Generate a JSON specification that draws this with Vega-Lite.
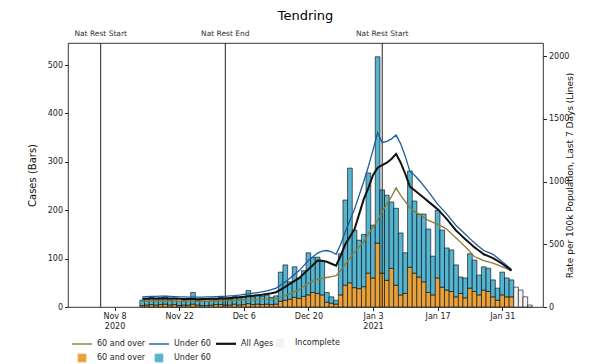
{
 "$schema": "https://vega.github.io/schema/vega-lite/v6.json",
 "width": 475,
 "height": 264,
 "autosize": {"type": "none"},
 "padding": {"left": 68, "top": 43, "right": 57, "bottom": 57},
 "title": {"text": "Tendring", "fontSize": 13, "font": "DejaVu Sans", "fontWeight": "normal", "color": "#000", "offset": 7, "frame": "group", "anchor": "middle"},
 "config": {
  "font": "DejaVu Sans",
  "view": {"stroke": "#000", "strokeWidth": 0.8},
  "axis": {"labelFont": "DejaVu Sans", "labelFontSize": 8, "labelColor": "#222", "tickColor": "#222", "tickSize": 3.5, "domain": false, "grid": false, "titleFont": "DejaVu Sans", "titleFontWeight": "normal", "titleColor": "#111", "labelPadding": 2}
 },
 "datasets": {
  "events": [
   {"date": "2020-11-05", "label": "Nat Rest Start"},
   {"date": "2020-12-02", "label": "Nat Rest End"},
   {"date": "2021-01-05", "label": "Nat Rest Start"}
  ],
  "bars": [
   {"date": "2020-11-14", "b60": 3, "bu60": 11},
   {"date": "2020-11-15", "b60": 4, "bu60": 14},
   {"date": "2020-11-16", "b60": 5, "bu60": 15},
   {"date": "2020-11-17", "b60": 4, "bu60": 13},
   {"date": "2020-11-18", "b60": 5, "bu60": 14},
   {"date": "2020-11-19", "b60": 6, "bu60": 16},
   {"date": "2020-11-20", "b60": 4, "bu60": 11},
   {"date": "2020-11-21", "b60": 5, "bu60": 13},
   {"date": "2020-11-22", "b60": 3, "bu60": 9},
   {"date": "2020-11-23", "b60": 4, "bu60": 10},
   {"date": "2020-11-24", "b60": 4, "bu60": 12},
   {"date": "2020-11-25", "b60": 6, "bu60": 24},
   {"date": "2020-11-26", "b60": 4, "bu60": 10},
   {"date": "2020-11-27", "b60": 3, "bu60": 12},
   {"date": "2020-11-28", "b60": 3, "bu60": 9},
   {"date": "2020-11-29", "b60": 4, "bu60": 13},
   {"date": "2020-11-30", "b60": 5, "bu60": 11},
   {"date": "2020-12-01", "b60": 5, "bu60": 15},
   {"date": "2020-12-02", "b60": 4, "bu60": 14},
   {"date": "2020-12-03", "b60": 4, "bu60": 12},
   {"date": "2020-12-04", "b60": 6, "bu60": 16},
   {"date": "2020-12-05", "b60": 4, "bu60": 13},
   {"date": "2020-12-06", "b60": 5, "bu60": 15},
   {"date": "2020-12-07", "b60": 7, "bu60": 27},
   {"date": "2020-12-08", "b60": 5, "bu60": 16},
   {"date": "2020-12-09", "b60": 6, "bu60": 18},
   {"date": "2020-12-10", "b60": 5, "bu60": 17},
   {"date": "2020-12-11", "b60": 6, "bu60": 19},
   {"date": "2020-12-12", "b60": 5, "bu60": 15},
   {"date": "2020-12-13", "b60": 6, "bu60": 17},
   {"date": "2020-12-14", "b60": 12, "bu60": 60},
   {"date": "2020-12-15", "b60": 14, "bu60": 73},
   {"date": "2020-12-16", "b60": 16, "bu60": 36},
   {"date": "2020-12-17", "b60": 20, "bu60": 63},
   {"date": "2020-12-18", "b60": 18, "bu60": 42},
   {"date": "2020-12-19", "b60": 22, "bu60": 53},
   {"date": "2020-12-20", "b60": 25, "bu60": 87},
   {"date": "2020-12-21", "b60": 30, "bu60": 72},
   {"date": "2020-12-22", "b60": 28, "bu60": 75},
   {"date": "2020-12-23", "b60": 25, "bu60": 70},
   {"date": "2020-12-24", "b60": 10, "bu60": 20},
   {"date": "2020-12-25", "b60": 8, "bu60": 13},
   {"date": "2020-12-26", "b60": 6, "bu60": 8},
   {"date": "2020-12-27", "b60": 25, "bu60": 85},
   {"date": "2020-12-28", "b60": 45, "bu60": 176},
   {"date": "2020-12-29", "b60": 50, "bu60": 237},
   {"date": "2020-12-30", "b60": 40, "bu60": 119},
   {"date": "2020-12-31", "b60": 38, "bu60": 100},
   {"date": "2021-01-01", "b60": 42, "bu60": 108},
   {"date": "2021-01-02", "b60": 70, "bu60": 207},
   {"date": "2021-01-03", "b60": 60, "bu60": 109},
   {"date": "2021-01-04", "b60": 132, "bu60": 385},
   {"date": "2021-01-05", "b60": 70, "bu60": 172},
   {"date": "2021-01-06", "b60": 55, "bu60": 176},
   {"date": "2021-01-07", "b60": 80, "bu60": 137},
   {"date": "2021-01-08", "b60": 45, "bu60": 159},
   {"date": "2021-01-09", "b60": 25, "bu60": 128},
   {"date": "2021-01-10", "b60": 28, "bu60": 84},
   {"date": "2021-01-11", "b60": 82, "bu60": 199},
   {"date": "2021-01-12", "b60": 70, "bu60": 149},
   {"date": "2021-01-13", "b60": 62, "bu60": 130},
   {"date": "2021-01-14", "b60": 52, "bu60": 140},
   {"date": "2021-01-15", "b60": 30, "bu60": 131},
   {"date": "2021-01-16", "b60": 25, "bu60": 80},
   {"date": "2021-01-17", "b60": 60, "bu60": 140},
   {"date": "2021-01-18", "b60": 41, "bu60": 118},
   {"date": "2021-01-19", "b60": 35, "bu60": 87},
   {"date": "2021-01-20", "b60": 32, "bu60": 86},
   {"date": "2021-01-21", "b60": 21, "bu60": 66},
   {"date": "2021-01-22", "b60": 28, "bu60": 34},
   {"date": "2021-01-23", "b60": 19, "bu60": 41},
   {"date": "2021-01-24", "b60": 39, "bu60": 71},
   {"date": "2021-01-25", "b60": 32, "bu60": 65},
   {"date": "2021-01-26", "b60": 25, "bu60": 41},
   {"date": "2021-01-27", "b60": 35, "bu60": 48},
   {"date": "2021-01-28", "b60": 32, "bu60": 48},
   {"date": "2021-01-29", "b60": 21, "bu60": 35},
   {"date": "2021-01-30", "b60": 14, "bu60": 25},
   {"date": "2021-01-31", "b60": 25, "bu60": 47},
   {"date": "2021-02-01", "b60": 21, "bu60": 39},
   {"date": "2021-02-02", "b60": 21, "bu60": 35},
   {"date": "2021-02-03", "inc": 41},
   {"date": "2021-02-04", "inc": 35},
   {"date": "2021-02-05", "inc": 21},
   {"date": "2021-02-06", "inc": 4}
  ],
  "lines": [
   {"date": "2020-11-14", "lu60": 80, "lall": 65, "l60": 45},
   {"date": "2020-11-15", "lu60": 82, "lall": 66, "l60": 46},
   {"date": "2020-11-16", "lu60": 84, "lall": 67, "l60": 47},
   {"date": "2020-11-17", "lu60": 85, "lall": 68, "l60": 48},
   {"date": "2020-11-18", "lu60": 86, "lall": 68, "l60": 48},
   {"date": "2020-11-19", "lu60": 86, "lall": 69, "l60": 48},
   {"date": "2020-11-20", "lu60": 85, "lall": 68, "l60": 48},
   {"date": "2020-11-21", "lu60": 83, "lall": 67, "l60": 47},
   {"date": "2020-11-22", "lu60": 81, "lall": 65, "l60": 46},
   {"date": "2020-11-23", "lu60": 80, "lall": 64, "l60": 46},
   {"date": "2020-11-24", "lu60": 78, "lall": 63, "l60": 45},
   {"date": "2020-11-25", "lu60": 79, "lall": 63, "l60": 45},
   {"date": "2020-11-26", "lu60": 78, "lall": 62, "l60": 45},
   {"date": "2020-11-27", "lu60": 79, "lall": 63, "l60": 46},
   {"date": "2020-11-28", "lu60": 80, "lall": 64, "l60": 47},
   {"date": "2020-11-29", "lu60": 81, "lall": 65, "l60": 48},
   {"date": "2020-11-30", "lu60": 83, "lall": 66, "l60": 48},
   {"date": "2020-12-01", "lu60": 84, "lall": 67, "l60": 49},
   {"date": "2020-12-02", "lu60": 85, "lall": 68, "l60": 50},
   {"date": "2020-12-03", "lu60": 88, "lall": 71, "l60": 51},
   {"date": "2020-12-04", "lu60": 91, "lall": 74, "l60": 52},
   {"date": "2020-12-05", "lu60": 95, "lall": 78, "l60": 54},
   {"date": "2020-12-06", "lu60": 100, "lall": 82, "l60": 55},
   {"date": "2020-12-07", "lu60": 105, "lall": 86, "l60": 56},
   {"date": "2020-12-08", "lu60": 110, "lall": 90, "l60": 57},
   {"date": "2020-12-09", "lu60": 115, "lall": 94, "l60": 58},
   {"date": "2020-12-10", "lu60": 120, "lall": 98, "l60": 60},
   {"date": "2020-12-11", "lu60": 128, "lall": 104, "l60": 62},
   {"date": "2020-12-12", "lu60": 138, "lall": 110, "l60": 65},
   {"date": "2020-12-13", "lu60": 150, "lall": 118, "l60": 68},
   {"date": "2020-12-14", "lu60": 175, "lall": 138, "l60": 78},
   {"date": "2020-12-15", "lu60": 200, "lall": 160, "l60": 90},
   {"date": "2020-12-16", "lu60": 230, "lall": 185, "l60": 105},
   {"date": "2020-12-17", "lu60": 260, "lall": 208, "l60": 122},
   {"date": "2020-12-18", "lu60": 290, "lall": 230, "l60": 140},
   {"date": "2020-12-19", "lu60": 330, "lall": 265, "l60": 165},
   {"date": "2020-12-20", "lu60": 370, "lall": 300, "l60": 190},
   {"date": "2020-12-21", "lu60": 400, "lall": 335, "l60": 205},
   {"date": "2020-12-22", "lu60": 430, "lall": 370, "l60": 220},
   {"date": "2020-12-23", "lu60": 445, "lall": 368, "l60": 228},
   {"date": "2020-12-24", "lu60": 450, "lall": 360, "l60": 235},
   {"date": "2020-12-25", "lu60": 440, "lall": 345, "l60": 242},
   {"date": "2020-12-26", "lu60": 420, "lall": 330, "l60": 250},
   {"date": "2020-12-27", "lu60": 500, "lall": 410, "l60": 290},
   {"date": "2020-12-28", "lu60": 600, "lall": 500, "l60": 340},
   {"date": "2020-12-29", "lu60": 690, "lall": 560, "l60": 390},
   {"date": "2020-12-30", "lu60": 780, "lall": 620, "l60": 440},
   {"date": "2020-12-31", "lu60": 890, "lall": 740, "l60": 480},
   {"date": "2021-01-01", "lu60": 1000, "lall": 860, "l60": 520},
   {"date": "2021-01-02", "lu60": 1120, "lall": 950, "l60": 580},
   {"date": "2021-01-03", "lu60": 1250, "lall": 1050, "l60": 640},
   {"date": "2021-01-04", "lu60": 1390, "lall": 1110, "l60": 690},
   {"date": "2021-01-05", "lu60": 1310, "lall": 1130, "l60": 760},
   {"date": "2021-01-06", "lu60": 1320, "lall": 1150, "l60": 820},
   {"date": "2021-01-07", "lu60": 1340, "lall": 1180, "l60": 880},
   {"date": "2021-01-08", "lu60": 1370, "lall": 1220, "l60": 950},
   {"date": "2021-01-09", "lu60": 1300, "lall": 1150, "l60": 890},
   {"date": "2021-01-10", "lu60": 1200, "lall": 1060, "l60": 840},
   {"date": "2021-01-11", "lu60": 1080, "lall": 960, "l60": 790},
   {"date": "2021-01-12", "lu60": 1050, "lall": 930, "l60": 760},
   {"date": "2021-01-13", "lu60": 1010, "lall": 900, "l60": 740},
   {"date": "2021-01-14", "lu60": 965, "lall": 870, "l60": 715},
   {"date": "2021-01-15", "lu60": 920, "lall": 840, "l60": 690},
   {"date": "2021-01-16", "lu60": 870, "lall": 810, "l60": 675},
   {"date": "2021-01-17", "lu60": 820, "lall": 780, "l60": 660},
   {"date": "2021-01-18", "lu60": 780, "lall": 740, "l60": 640},
   {"date": "2021-01-19", "lu60": 740, "lall": 700, "l60": 620},
   {"date": "2021-01-20", "lu60": 695, "lall": 655, "l60": 585},
   {"date": "2021-01-21", "lu60": 650, "lall": 610, "l60": 550},
   {"date": "2021-01-22", "lu60": 615, "lall": 575, "l60": 515},
   {"date": "2021-01-23", "lu60": 580, "lall": 540, "l60": 480},
   {"date": "2021-01-24", "lu60": 545, "lall": 508, "l60": 440},
   {"date": "2021-01-25", "lu60": 510, "lall": 475, "l60": 400},
   {"date": "2021-01-26", "lu60": 480, "lall": 448, "l60": 385},
   {"date": "2021-01-27", "lu60": 450, "lall": 420, "l60": 370},
   {"date": "2021-01-28", "lu60": 435, "lall": 405, "l60": 360},
   {"date": "2021-01-29", "lu60": 420, "lall": 390, "l60": 350},
   {"date": "2021-01-30", "lu60": 390, "lall": 368, "l60": 335},
   {"date": "2021-01-31", "lu60": 360, "lall": 345, "l60": 320},
   {"date": "2021-02-01", "lu60": 330, "lall": 318, "l60": 305},
   {"date": "2021-02-02", "lu60": 300, "lall": 290, "l60": 290}
  ]
 },
 "encoding": {
  "x": {
   "field": "date", "type": "temporal",
   "scale": {"type": "utc", "domain": [{"year": 2020, "month": 10, "date": 30, "hours": 0, "utc": true}, {"year": 2021, "month": 2, "date": 7, "hours": 18, "utc": true}]},
   "axis": {
    "title": null,
    "values": [
     {"year": 2020, "month": 11, "date": 8, "utc": true},
     {"year": 2020, "month": 11, "date": 22, "utc": true},
     {"year": 2020, "month": 12, "date": 6, "utc": true},
     {"year": 2020, "month": 12, "date": 20, "utc": true},
     {"year": 2021, "month": 1, "date": 3, "utc": true},
     {"year": 2021, "month": 1, "date": 17, "utc": true},
     {"year": 2021, "month": 1, "date": 31, "utc": true}
    ],
    "labelExpr": "utcdate(datum.value)==8 && utcmonth(datum.value)==10 ? ['Nov 8','2020'] : (utcdate(datum.value)==3 && utcmonth(datum.value)==0 ? ['Jan 3','2021'] : utcFormat(datum.value, '%b %-d'))",
    "labelLineHeight": 9.5
   }
  }
 },
 "layer": [
  {
   "layer": [
    {
     "data": {"name": "bars"},
     "transform": [{"fold": ["b60", "bu60", "inc"], "as": ["key", "value"]}, {"filter": "datum.value != null"}],
     "mark": {"type": "bar", "width": 4.7, "stroke": "#000", "strokeWidth": 0.6},
     "encoding": {
      "y": {"field": "value", "type": "quantitative", "stack": true, "scale": {"domain": [0, 545.5], "nice": false}, "axis": {"title": "Cases (Bars)", "values": [0, 100, 200, 300, 400, 500], "titleFontSize": 10, "titlePadding": 10}},
      "color": {
       "field": "key", "type": "nominal",
       "scale": {"domain": ["l60", "lu60", "lall", "inc", "b60", "bu60"], "range": ["#8c7b35", "#1f5c9e", "#111111", "#f2f2f2", "#e8a23c", "#55b4cf"]},
       "legend": {
        "orient": "none", "legendX": 10, "legendY": 296, "direction": "horizontal", "columns": 4, "title": null,
        "symbolSize": 400, "labelFontSize": 8, "labelFont": "DejaVu Sans", "labelColor": "#222", "columnPadding": 0, "rowPadding": 3, "labelOffset": 11,
        "labelExpr": "datum.value=='l60' || datum.value=='b60' ? '60 and over' : (datum.value=='lu60' || datum.value=='bu60' ? 'Under 60' : (datum.value=='lall' ? 'All Ages' : 'Incomplete'))",
        "encode": {"symbols": {"update": {
         "shape": {"signal": "(datum.value=='inc'||datum.value=='b60'||datum.value=='bu60') ? 'square' : 'stroke'"},
         "size": {"signal": "(datum.value=='inc'||datum.value=='b60'||datum.value=='bu60') ? 60 : 400"},
         "fill": {"signal": "(datum.value=='inc'||datum.value=='b60'||datum.value=='bu60') ? scale('color', datum.value) : 'transparent'"},
         "stroke": {"signal": "(datum.value=='inc'||datum.value=='b60'||datum.value=='bu60') ? '#222' : scale('color', datum.value)"},
         "strokeWidth": {"signal": "datum.value=='lall' ? 2.2 : ((datum.value=='inc'||datum.value=='b60'||datum.value=='bu60') ? 0.9 : 1.4)"},
         "opacity": {"value": 1},
         "strokeOpacity": {"value": 1}
        }}}
       }
      },
      "order": {"field": "key", "type": "ordinal", "sort": "ascending"}
     }
    },
    {
     "data": {"name": "events"},
     "mark": {"type": "rule", "color": "#222", "strokeWidth": 1},
     "encoding": {}
    },
    {
     "data": {"name": "events"},
     "mark": {"type": "text", "dy": -9, "fontSize": 7.5, "color": "#333", "font": "DejaVu Sans"},
     "encoding": {"y": {"datum": 545.5, "type": "quantitative"}, "text": {"field": "label"}}
    }
   ]
  },
  {
   "data": {"name": "lines"},
   "transform": [{"fold": ["l60", "lu60", "lall"], "as": ["key", "rate"]}],
   "mark": {"type": "line", "interpolate": "linear"},
   "encoding": {
    "y": {"field": "rate", "type": "quantitative", "scale": {"domain": [0, 2104], "nice": false}, "axis": {"orient": "right", "title": "Rate per 100k Population, Last 7 Days (Lines)", "values": [0, 500, 1000, 1500, 2000], "format": "d", "titleFontSize": 9, "titlePadding": 6, "titleAngle": 270}},
    "color": {
     "field": "key", "type": "nominal",
     "scale": {"domain": ["l60", "lu60", "lall", "inc", "b60", "bu60"], "range": ["#8c7b35", "#1f5c9e", "#111111", "#f2f2f2", "#e8a23c", "#55b4cf"]},
     "legend": {
      "orient": "none", "legendX": 10, "legendY": 296, "direction": "horizontal", "columns": 4, "title": null,
      "symbolSize": 400, "labelFontSize": 8, "labelFont": "DejaVu Sans", "labelColor": "#222", "columnPadding": 0, "rowPadding": 3, "labelOffset": 11,
      "labelExpr": "datum.value=='l60' || datum.value=='b60' ? '60 and over' : (datum.value=='lu60' || datum.value=='bu60' ? 'Under 60' : (datum.value=='lall' ? 'All Ages' : 'Incomplete'))",
      "encode": {"symbols": {"update": {
       "shape": {"signal": "(datum.value=='inc'||datum.value=='b60'||datum.value=='bu60') ? 'square' : 'stroke'"},
       "size": {"signal": "(datum.value=='inc'||datum.value=='b60'||datum.value=='bu60') ? 60 : 400"},
       "fill": {"signal": "(datum.value=='inc'||datum.value=='b60'||datum.value=='bu60') ? scale('color', datum.value) : 'transparent'"},
       "stroke": {"signal": "(datum.value=='inc'||datum.value=='b60'||datum.value=='bu60') ? '#222' : scale('color', datum.value)"},
       "strokeWidth": {"signal": "datum.value=='lall' ? 2.2 : ((datum.value=='inc'||datum.value=='b60'||datum.value=='bu60') ? 0.9 : 1.4)"},
       "opacity": {"value": 1},
       "strokeOpacity": {"value": 1}
      }}}
     }
    },
    "strokeWidth": {"condition": {"test": "datum.key=='lall'", "value": 2}, "value": 1.3}
   }
  }
 ],
 "resolve": {"scale": {"y": "independent"}}
}
